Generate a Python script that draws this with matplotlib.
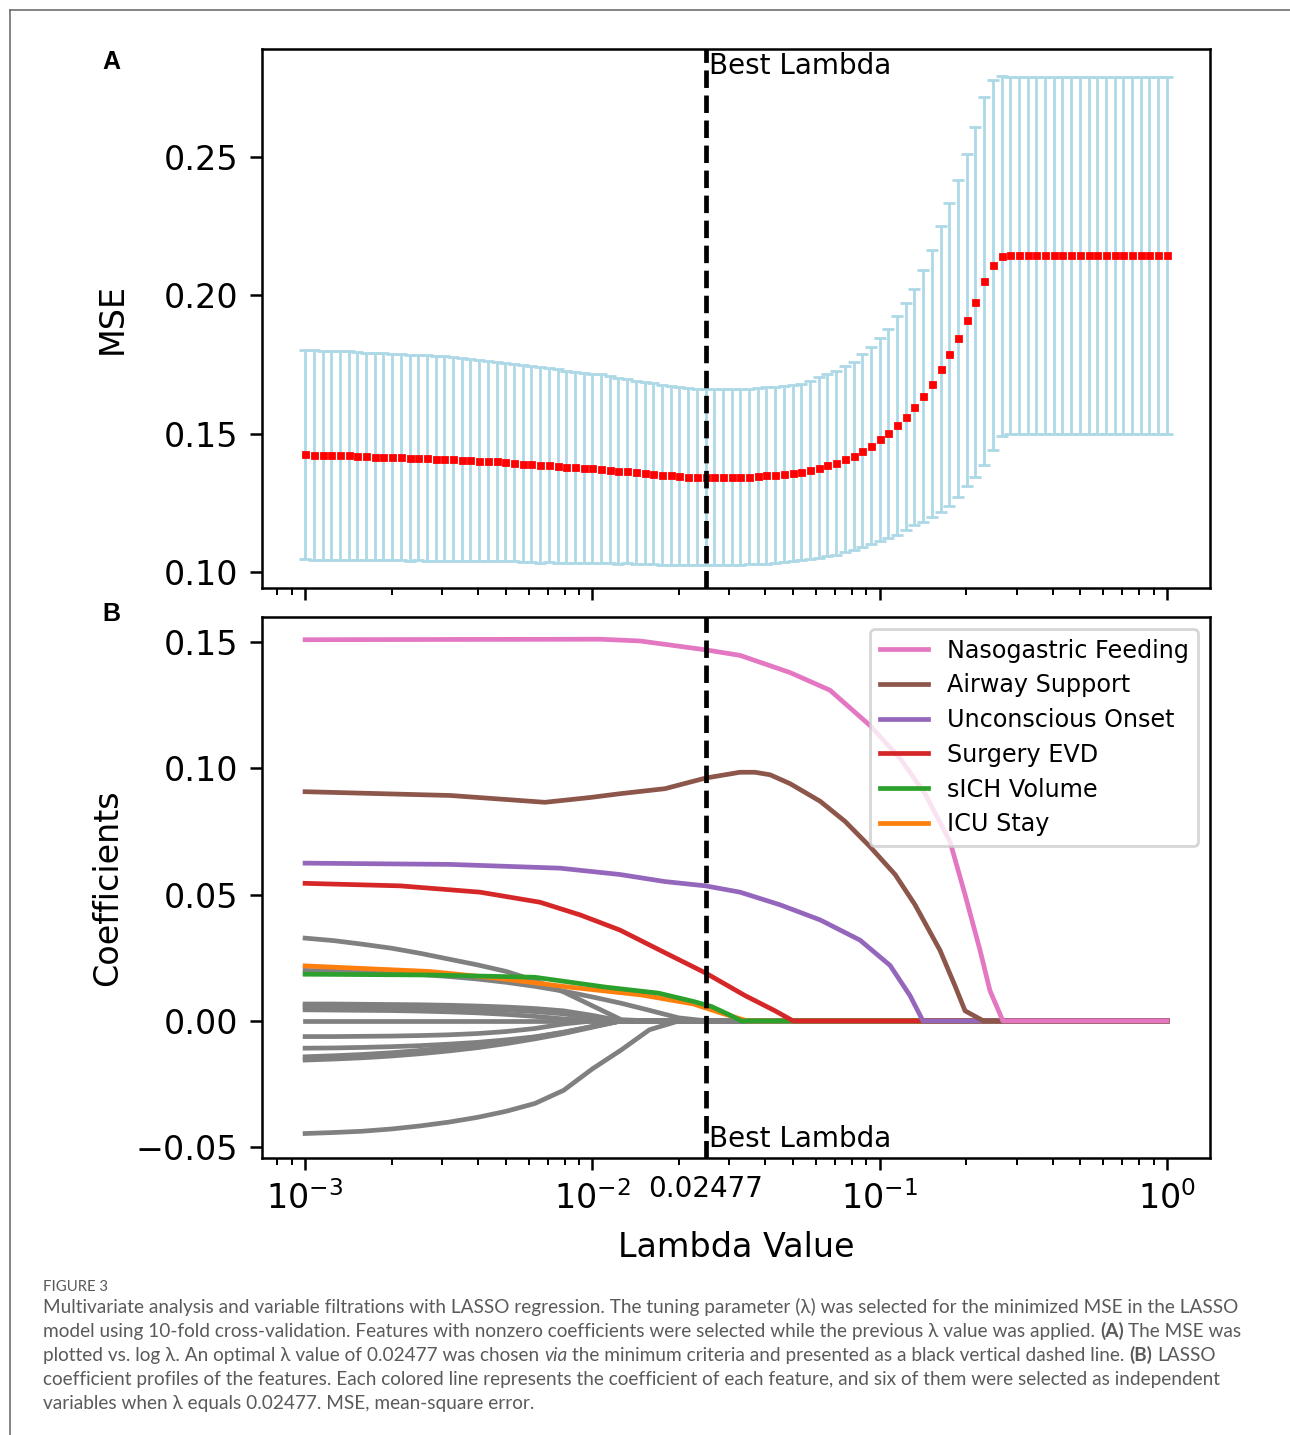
import numpy as np
import matplotlib
matplotlib.use("Agg")
import matplotlib.pyplot as plt
from matplotlib.lines import Line2D
from matplotlib.transforms import blended_transform_factory

# ---------------- data ----------------
best_lambda = 0.02477
lambdas = np.logspace(-3, 0, 100)          # CV grid of lambda values

mse_mean = [
    0.1426, 0.1423, 0.1421, 0.1421, 0.1421, 0.1421, 0.1420, 0.1418, 0.1417, 0.1416,
    0.1416, 0.1414, 0.1413, 0.1413, 0.1412, 0.1410, 0.1410, 0.1409, 0.1406, 0.1405,
    0.1402, 0.1401, 0.1400, 0.1397, 0.1395, 0.1392, 0.1390, 0.1387, 0.1386, 0.1383,
    0.1381, 0.1378, 0.1377, 0.1375, 0.1373, 0.1369, 0.1366, 0.1364, 0.1360, 0.1357,
    0.1355, 0.1351, 0.1349, 0.1347, 0.1345, 0.1343, 0.1342, 0.1342, 0.1342, 0.1344,
    0.1345, 0.1345, 0.1347, 0.1349, 0.1351, 0.1354, 0.1358, 0.1363, 0.1368, 0.1377,
    0.1386, 0.1394, 0.1407, 0.1420, 0.1438, 0.1457, 0.1479, 0.1501, 0.1530, 0.1561,
    0.1596, 0.1636, 0.1681, 0.1734, 0.1786, 0.1845, 0.1911, 0.1976, 0.2052, 0.2109,
    0.2143, 0.2145, 0.2145, 0.2145, 0.2145, 0.2145, 0.2145, 0.2145, 0.2145, 0.2145,
    0.2145, 0.2145, 0.2145, 0.2145, 0.2145, 0.2145, 0.2145, 0.2145, 0.2145, 0.2145,
]
mse_std = [
    0.0378, 0.0378, 0.0378, 0.0378, 0.0377, 0.0376, 0.0376, 0.0375, 0.0374, 0.0374,
    0.0373, 0.0372, 0.0372, 0.0371, 0.0371, 0.0370, 0.0370, 0.0369, 0.0368, 0.0366,
    0.0364, 0.0362, 0.0360, 0.0359, 0.0357, 0.0355, 0.0354, 0.0353, 0.0351, 0.0349,
    0.0347, 0.0345, 0.0343, 0.0342, 0.0341, 0.0338, 0.0336, 0.0333, 0.0331, 0.0329,
    0.0327, 0.0324, 0.0322, 0.0321, 0.0320, 0.0319, 0.0318, 0.0318, 0.0318, 0.0319,
    0.0318, 0.0317, 0.0318, 0.0319, 0.0318, 0.0319, 0.0319, 0.0318, 0.0321, 0.0326,
    0.0330, 0.0331, 0.0336, 0.0340, 0.0348, 0.0357, 0.0366, 0.0377, 0.0396, 0.0411,
    0.0428, 0.0455, 0.0483, 0.0516, 0.0546, 0.0573, 0.0599, 0.0631, 0.0665, 0.0669,
    0.0651, 0.0645, 0.0645, 0.0645, 0.0645, 0.0645, 0.0645, 0.0645, 0.0645, 0.0645,
    0.0645, 0.0645, 0.0645, 0.0645, 0.0645, 0.0645, 0.0645, 0.0645, 0.0645, 0.0645,
]

feature_names = ["Nasogastric Feeding", "Airway Support", "Unconscious Onset",
                 "Surgery EVD", "sICH Volume", "ICU Stay"]
feature_colors = ["#e377c2", "#8c564b", "#9467bd", "#d62728", "#2ca02c", "#ff7f0e"]

# coefficient paths: lambda knots and coefficient values
pink_lam = [0.001, 0.0032, 0.01064, 0.01466, 0.02477, 0.03266, 0.04875, 0.06716, 0.09261,
            0.1178, 0.1439, 0.1758, 0.1983, 0.2236, 0.2421, 0.2686, 1.0]
pink_coef = [0.1510, 0.1511, 0.1512, 0.1505, 0.1470, 0.1448, 0.1380, 0.1310, 0.1170,
             0.1040, 0.0900, 0.0710, 0.0500, 0.0280, 0.0120, 0.0, 0.0]
brown_lam = [0.001, 0.0032, 0.00684, 0.00982, 0.01247, 0.0179, 0.02477, 0.03266, 0.03681,
             0.04156, 0.04875, 0.06211, 0.07586, 0.09261, 0.1132, 0.1328, 0.1622, 0.1828,
             0.1983, 0.2300, 1.0]
brown_coef = [0.0908, 0.0893, 0.0866, 0.0885, 0.0900, 0.0920, 0.0962, 0.0985, 0.0985,
              0.0975, 0.0940, 0.0870, 0.0790, 0.0690, 0.0580, 0.0460, 0.0280, 0.0140,
              0.0040, 0.0, 0.0]
purple_lam = [0.001, 0.0032, 0.00773, 0.01247, 0.0179, 0.02477, 0.03266, 0.0450, 0.06211,
              0.08545, 0.1087, 0.1276, 0.1415, 1.0]
purple_coef = [0.0625, 0.0620, 0.0605, 0.0580, 0.0552, 0.0535, 0.0510, 0.0460, 0.0400,
               0.0320, 0.0220, 0.0100, 0.0, 0.0]
red_lam = [0.001, 0.002143, 0.004064, 0.006576, 0.009064, 0.01247, 0.0179, 0.02477, 0.03405,
           0.04325, 0.04999, 1.0]
red_coef = [0.0545, 0.0535, 0.0510, 0.0470, 0.0420, 0.0360, 0.0270, 0.0190, 0.0100,
            0.0040, 0.0, 0.0]
green_lam = [0.001, 0.0027, 0.0063, 0.0111, 0.0170, 0.0225, 0.0260, 0.0300, 0.0330, 1.0]
green_coef = [0.0185, 0.0182, 0.0173, 0.0134, 0.0110, 0.0077, 0.0057, 0.0024, 0.0, 0.0]
orange_lam = [0.001, 0.0027, 0.0047, 0.0083, 0.0148, 0.0225, 0.0283, 0.0346, 1.0]
orange_coef = [0.0218, 0.0196, 0.0169, 0.0134, 0.0103, 0.0067, 0.0030, 0.0, 0.0]

gray_lam = [0.001, 0.00126, 0.00158, 0.002, 0.00251, 0.00316, 0.00398, 0.00501, 0.00631,
            0.00794, 0.01, 0.0126, 0.0158, 0.02, 0.0251, 1.0]
gray_1 = [0.0328, 0.0318, 0.0304, 0.0288, 0.0268, 0.0245, 0.0222, 0.0196, 0.0160, 0.0115,
          0.0060, 0.0005, 0.0, 0.0, 0.0, 0.0]
gray_2 = [0.0200, 0.0198, 0.0195, 0.0190, 0.0184, 0.0176, 0.0166, 0.0153, 0.0137, 0.0118,
          0.0095, 0.0070, 0.0042, 0.0012, 0.0, 0.0]
gray_3 = [0.0067, 0.0067, 0.0066, 0.0065, 0.0064, 0.0062, 0.0059, 0.0055, 0.0049, 0.0040,
          0.0022, 0.0, 0.0, 0.0, 0.0, 0.0]
gray_4 = [0.0057, 0.0056, 0.0055, 0.0054, 0.0052, 0.0050, 0.0047, 0.0043, 0.0037, 0.0028,
          0.0012, 0.0, 0.0, 0.0, 0.0, 0.0]
gray_5 = [0.0044, 0.0043, 0.0042, 0.0041, 0.0039, 0.0036, 0.0032, 0.0026, 0.0018, 0.0008,
          0.0, 0.0, 0.0, 0.0, 0.0, 0.0]
gray_6 = [0.0, 0.0, 0.0, 0.0, 0.0, 0.0, 0.0, 0.0, 0.0, 0.0,
          0.0, 0.0, 0.0, 0.0, 0.0, 0.0]
gray_7 = [-0.0062, -0.0062, -0.0061, -0.0060, -0.0058, -0.0055, -0.0050, -0.0042, -0.0030,
          -0.0012, 0.0, 0.0, 0.0, 0.0, 0.0, 0.0]
gray_8 = [-0.0108, -0.0107, -0.0105, -0.0102, -0.0098, -0.0092, -0.0085, -0.0075, -0.0063,
          -0.0045, -0.0022, 0.0, 0.0, 0.0, 0.0, 0.0]
gray_9 = [-0.0142, -0.0138, -0.0133, -0.0126, -0.0117, -0.0106, -0.0094, -0.0080, -0.0064,
          -0.0045, -0.0022, 0.0, 0.0, 0.0, 0.0, 0.0]
gray_10 = [-0.0155, -0.0151, -0.0146, -0.0139, -0.0130, -0.0119, -0.0106, -0.0090, -0.0071,
           -0.0050, -0.0025, 0.0, 0.0, 0.0, 0.0, 0.0]
gray_11 = [-0.0446, -0.0442, -0.0437, -0.0428, -0.0416, -0.0401, -0.0382, -0.0358, -0.0327,
           -0.0275, -0.0190, -0.0115, -0.0035, 0.0, 0.0, 0.0]

caption_title = "FIGURE 3"
caption_lines = [
    [("Multivariate analysis and variable filtrations with LASSO regression. The tuning parameter (\u03bb) was selected for the minimized MSE in the LASSO", "normal", "normal")],
    [("model using 10-fold cross-validation. Features with nonzero coefficients were selected while the previous \u03bb value was applied. ", "normal", "normal"),
     ("(A)", "bold", "normal"), (" The MSE was", "normal", "normal")],
    [("plotted vs. log \u03bb. An optimal \u03bb value of 0.02477 was chosen ", "normal", "normal"),
     ("via", "normal", "italic"),
     (" the minimum criteria and presented as a black vertical dashed line. ", "normal", "normal"),
     ("(B)", "bold", "normal"), (" LASSO", "normal", "normal")],
    [("coefficient profiles of the features. Each colored line represents the coefficient of each feature, and six of them were selected as independent", "normal", "normal")],
    [("variables when \u03bb equals 0.02477. MSE, mean-square error.", "normal", "normal")],
]

# ---------------- figure ----------------
W, H = 1290, 1435
DPI = 200
plt.rcParams["font.family"] = ["DejaVu Sans"]
fig = plt.figure(figsize=(W / DPI, H / DPI), dpi=DPI, facecolor="white")


def rect(l, t, r, b):
    return [l / W, 1 - b / H, (r - l) / W, (b - t) / H]


axA = fig.add_axes(rect(262, 49, 1210, 588.3))
axB = fig.add_axes(rect(262, 617, 1210, 1157.5))

for ax in (axA, axB):
    ax.set_xscale("log")
    ax.set_xlim(10 ** -3.15, 10 ** 0.15)
    for sp in ax.spines.values():
        sp.set_linewidth(0.9)
    ax.tick_params(which="major", length=4.2, width=0.9, labelsize=12, pad=4.3)
    ax.tick_params(which="minor", length=2.6, width=0.7)

# ---- Panel A ----
axA.errorbar(lambdas, mse_mean, yerr=mse_std, fmt="s", color="red", ms=1.8, mec="red",
             ecolor="lightblue", elinewidth=1.0, capsize=2.0, capthick=1.0, zorder=2)
axA.axvline(best_lambda, color="black", ls="--", lw=1.7, zorder=3)
axA.annotate("Best Lambda", xy=(best_lambda, 0.28), xytext=(1.2, 0), textcoords="offset points",
             fontsize=10, va="baseline", ha="left")
axA.set_ylim(0.0941, 0.2890)
axA.set_yticks([0.10, 0.15, 0.20, 0.25])
axA.tick_params(axis="x", which="both", labelbottom=False)
axA.set_ylabel("MSE", fontsize=12)
axA.yaxis.set_label_coords((129 - 262) / 948, 0.5)

# ---- Panel B ----
for g in (gray_1, gray_2, gray_3, gray_4, gray_5, gray_6, gray_7, gray_8, gray_9, gray_10, gray_11):
    axB.plot(gray_lam, g, color="gray", lw=1.7, zorder=2)
paths = [(pink_lam, pink_coef), (brown_lam, brown_coef), (purple_lam, purple_coef),
         (red_lam, red_coef), (green_lam, green_coef), (orange_lam, orange_coef)]
handles = [None] * 6
for idx in range(5, -1, -1):
    lam_k, coef_k = paths[idx]
    ln, = axB.plot(lam_k, coef_k, color=feature_colors[idx], lw=1.7,
                   label=feature_names[idx], zorder=3)
    handles[idx] = ln
axB.axvline(best_lambda, color="black", ls="--", lw=1.7, zorder=4)
axB.annotate("Best Lambda", xy=(best_lambda, -0.05), xytext=(1.2, 0), textcoords="offset points",
             fontsize=10, va="baseline", ha="left")
axB.set_ylim(-0.0541, 0.1600)
axB.set_yticks([-0.05, 0.0, 0.05, 0.10, 0.15])
axB.set_ylabel("Coefficients", fontsize=12)
axB.yaxis.set_label_coords((124 - 262) / 948, 0.5)
axB.set_xlabel("Lambda Value", fontsize=12)
axB.xaxis.set_label_coords(0.5, -(1231 - 1157.5) / 540.5)
trans = blended_transform_factory(axB.transData, axB.transAxes)
axB.text(best_lambda, -(1175 - 1157.5) / 540.5, f"{best_lambda}", transform=trans,
         ha="center", va="top", fontsize=10)
leg = axB.legend(handles=handles, labels=feature_names, loc="upper right", fontsize=8.6,
                 labelspacing=0.45, framealpha=0.8)

# ---- panel letters ----
fig.text(111 / W, 1 - 62 / H, "A", fontsize=9, fontweight="bold", family="Liberation Sans",
         ha="center", va="center")
fig.text(111 / W, 1 - 614 / H, "B", fontsize=9, fontweight="bold", family="Liberation Sans",
         ha="center", va="center")

# ---- page frame ----
fig.add_artist(Line2D([10 / W, 10 / W], [0, 1 - 10 / H], transform=fig.transFigure,
                      color="#707070", lw=0.6))
fig.add_artist(Line2D([10 / W, 1], [1 - 10 / H, 1 - 10 / H], transform=fig.transFigure,
                      color="#707070", lw=0.6))

# ---- caption ----
renderer = fig.canvas.get_renderer()
cap_family = ["Lato", "DejaVu Sans"]
cap_size = 6.87
cap_color = "#5a5a5a"

fig.text(43 / W, 1 - 1291 / H, caption_title, fontsize=5.35, family=cap_family, color=cap_color,
         ha="left", va="baseline")


def measure(s, weight="normal", style="normal"):
    t = fig.text(0, 0, s, fontsize=cap_size, family=cap_family, fontweight=weight, fontstyle=style)
    w = t.get_window_extent(renderer).width
    t.remove()
    return w


space_w = measure("a a") - measure("aa")
line_base = [1313, 1337, 1361, 1385, 1409]
for parts, yb in zip(caption_lines, line_base):
    x = 43.0
    for s, weight, style in parts:
        lead = len(s) - len(s.lstrip(" "))
        trail = len(s) - len(s.rstrip(" "))
        x += lead * space_w
        core = s.strip(" ")
        t = fig.text(x / W, 1 - yb / H, core, fontsize=cap_size, family=cap_family,
                     fontweight=weight, fontstyle=style, color=cap_color, ha="left", va="baseline")
        x += t.get_window_extent(renderer).width
        x += trail * space_w

fig.savefig("out.png", dpi=DPI, facecolor="white")
